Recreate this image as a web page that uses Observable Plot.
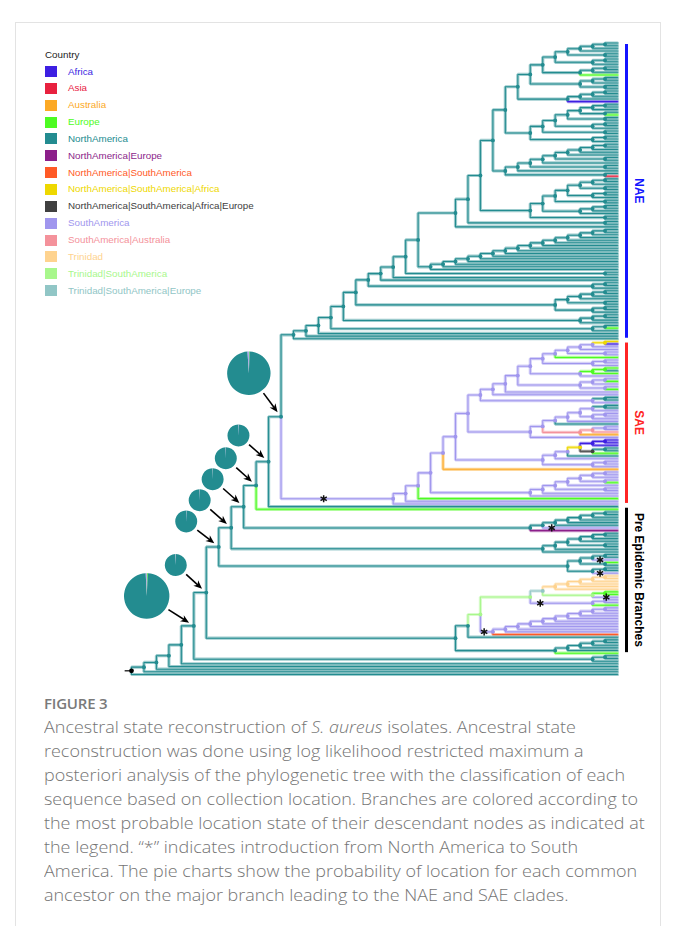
<!DOCTYPE html>
<html><head><meta charset="utf-8">
<script src="https://cdn.jsdelivr.net/npm/d3@7"></script>
<script src="https://cdn.jsdelivr.net/npm/@observablehq/plot@0.6"></script>
<style>
body{margin:0;background:#fff;}
#wrap{position:relative;width:678px;height:926px;overflow:hidden;font-family:"Liberation Sans",Arial,sans-serif;background:#fff;}
#frame{position:absolute;left:15px;top:22px;width:646px;height:940px;border:1px solid #e3e3e3;box-sizing:border-box;}
#chart{position:absolute;left:0;top:0;}
#legend{position:absolute;left:45px;top:48px;font-size:9.8px;line-height:1;}
#legend .ttl{position:absolute;left:0;top:2px;color:#222;white-space:nowrap;}
#legend .row{position:absolute;left:0;white-space:nowrap;}
#legend .sw{position:absolute;left:0;top:0;width:11.5px;height:11px;}
#legend .lb{position:absolute;left:23px;top:0.5px;}
#cap{position:absolute;left:44px;top:691px;font-family:"Open Sans","Noto Sans",sans-serif;color:#747474;}
#cap .fig{font-size:15px;font-weight:600;line-height:24px;letter-spacing:-0.2px;color:#7a7a7a;}
#cap .ln{font-size:16.4px;line-height:24px;white-space:nowrap;transform-origin:0 50%;font-weight:300;}
</style></head><body>
<div id="wrap">
  <div id="frame"></div>
  <div id="chart"></div>
  <div id="legend"></div>
  <div id="cap"></div>
</div>
<script>
// ---------- legend / states ----------
const countries = ["Africa","Asia","Australia","Europe","NorthAmerica","NorthAmerica|Europe","NorthAmerica|SouthAmerica","NorthAmerica|SouthAmerica|Africa","NorthAmerica|SouthAmerica|Africa|Europe","SouthAmerica","SouthAmerica|Australia","Trinidad","Trinidad|SouthAmerica","Trinidad|SouthAmerica|Europe"];
const codes = ["Af","As","Au","Eu","NA","NE","NS","NSA","NSAE","SA","SAu","Tr","TS","TSE"];
const colors = ["#3d1fe2","#e8213f","#fca925","#4dfb22","#238c90","#8c1f8a","#ff5a26","#eed800","#404040","#a096ee","#f4929b","#fed38f","#a8f78c","#91c6c6"];

// ---------- tree topology (Newick, top-to-bottom leaf order; "." = leaf in parent's state) ----------
const m1 = "(.,.)";
const m2 = "((.,.),.)";
const m3 = "(((.,.),.),.)";
// NAE clade
const H5a = "((" + m3 + "," + m1 + ")," + m2 + ")";
const H6a = "(" + H5a + ",(" + m2 + ",Eu))";
const H7a = "(" + H6a + ",(" + m2 + "," + m1 + "))";
const H8a = "(" + H7a + ",(" + m3 + ",Af))";
const C5b = "(((" + m2 + ",(.,Eu))," + m1 + ")," + m2 + ")";
const H7b = "((" + C5b + "," + m1 + ")," + m2 + ")";
const H9a = "(" + H8a + "," + H7b + ")";
const C5c = "((((" + m1 + ",.),.),.)," + m1 + ")";
const H9b = "((((" + C5c + ",.)," + m1 + "),.),(.,As))";
const H10a = "(" + H9a + "," + H9b + ")";
const C7 = "(((((" + m2 + "," + m1 + ")," + m2 + ")," + m1 + ")," + m3 + ")," + m1 + ")";
const H11a = "(" + H10a + "," + C7 + ")";
const H12a = "(" + H11a + "," + m1 + ")";
const H13a = "(" + H12a + ",.)";
const CAT4 = "((((.,.),.),.),.)";
const CAT8 = "((((" + CAT4 + ",.),.),.),.)";
const CAT12 = "((((" + CAT8 + ",.),.),.),.)";
const CAT15 = "(((" + CAT12 + ",.),.),.)";
const H16 = "(" + H13a + "," + CAT15 + ")";
const H17 = "(" + H16 + "," + m1 + ")";
const H18 = "(" + H17 + ",.)";
const H19 = "(" + H18 + ",.)";
const H20 = "(" + H19 + "," + m2 + ")";
const C5 = "((" + m3 + "," + m1 + ")," + m2 + ")";
const H21 = "(" + H20 + "," + C5 + ")";
const H22 = "(" + H21 + "," + m3 + ")";
const H23 = "(" + H22 + ",((.,Eu),.))";
const H24 = "(" + H23 + ",.)";
const H25 = "(" + H24 + ",.)";
const NAE = "(" + H25 + ",.)#nae";
// SAE clade
const S3 = "(((NSA,Af)NSA,.),.)";
const S4 = "(" + S3 + "," + m1 + ")";
const S5 = "(" + S4 + ",Eu)";
const S6 = "(" + S5 + "," + m2 + ")";
const S7 = "(" + S6 + ",(((Eu,NA)Eu,Eu)Eu,.))";
const C3f = "(((.,Eu),.),(.,Eu))";
const S8 = "(" + S7 + "," + C3f + ")";
const S9 = "(" + S8 + ",.)";
const S10 = "(" + S9 + ",.)";
const S11 = "(" + S10 + ",((NA,NA)NA,.))";
const SAc3a = "(((((NA,NA)NA,.)," + m2 + "),.),NA)";
const SAc3 = "((" + SAc3a + ",(((SA,SA)SA,SAu),Au)SAu),.)";
const S12 = "(" + S11 + "," + SAc3 + ")";
const SAc2y = "(((Af,Af)Af,Af)Af,((NA,NA)NA,Eu)NSAE)NSA";
const SAc2 = "(((" + SAc2y + ",NA),.)," + m2 + ")";
const S13 = "(" + S12 + "," + SAc2 + ")";
const S14 = "(" + S13 + ",Au)";
const SAc1 = "(((((" + m2 + ",(.,Eu)),.)," + m1 + "),.),.)";
const S15 = "(" + S14 + "," + SAc1 + ")";
const S16 = "(" + S15 + ",Eu)";
const S17 = "(" + S16 + ",.)";
const SAE = "(" + S17 + ",.)SA#sae";
// pre-epidemic clades
const P5 = "((((" + m1 + ",.),.),.),.)";
const P30 = "((" + P5 + ",SA#s2),NE)";
const P31 = "(((" + m3 + "," + m1 + "),.),.)";
const P32 = "(((" + m1 + ",SA#s3),(Eu,.)),(" + m1 + ",SA#s4))";
const P8 = "((((" + m1 + ",.),.),.),.)Tr";
const P9 = "(" + P8 + ",((Eu,Eu)Eu,SA#s5)TS)TSE";
const SAsmall = "(" + m1 + ",Eu)SA#s6";
const P10 = "(" + P9 + "," + SAsmall + ")TS";
const SAclade = "(((((((((" + m1 + ",.),.),.),.),.),.),.),.),NS)SA#s7";
const P11 = "(" + P10 + "," + SAclade + ")TS";
const P12 = "(" + P11 + ",.)NA";
const P5b = "((((" + m1 + ",.),.),.),Eu)";
const P33 = "(" + P12 + "," + P5b + ")#p33";
// backbone
const B27 = "(" + NAE + "," + SAE + ")#b27";
const B28 = "(" + B27 + ",.#pre0)#b28";
const B29 = "(" + B28 + ",Eu)#b29";
const B30 = "(" + B29 + "," + P30 + ")#b30";
const B31 = "(" + B30 + "," + P31 + ")#b31";
const B32 = "(" + B31 + "," + P32 + ")#b32";
const B33 = "(" + B32 + "," + P33 + ")#b33";
const B34 = "(" + B33 + "," + m2 + ")#b34";
const B35 = "(" + B34 + ",.)";
const B36 = "(" + B35 + ",.)";
const B37 = "(" + B36 + ",.)";
const B38 = "(" + B37 + ",.)";
const TREE = "(" + B38 + ",.)NA#root";

// ---------- annotations ----------
const stars = [["sae",0.38],["s2",0.12],["s3",0.3],["s4",0.3],["s5",0.55],["s6",0.16],["s7",0.3]];
const cladeNames = ["NAE","SAE","Pre Epidemic Branches"];
const cladeFrom = ["nae","sae","pre0"];
const cladeTo = ["nae","sae","p33"];
const cladeColors = ["#1414ff","#ff2424","#000000"];

const pieNodes = ["b34","b33","b32","b31","b30","b29","b28","b27"];
const pieCodes = ["Au","Eu","NA","SA"];
const pieAustralia    = [0.002,0.001,0.001,0.001,0.001,0.001,0.001,0.001];
const pieEurope       = [0.006,0.003,0.002,0.002,0.002,0.002,0.002,0.005];
const pieNorthAmerica = [0.985,0.990,0.993,0.993,0.993,0.993,0.992,0.984];
const pieSouthAmerica = [0.007,0.006,0.004,0.004,0.004,0.004,0.005,0.010];
// pie layout (pixels relative to node) and radius
const pieOffset = [[-46.6,-29.4],[-30,-27],[-32,-25],[-31,-27],[-30.5,-27],[-29.8,-26.7],[-29.6,-25.7],[-31.7,-43]];
const pieRadius = [22.7,11,11,11,11,11,11,21.7];

// ---------- parse ----------
function parseNewick(s){
  let i = 0;
  function label(){ const j = i; while (i < s.length && !"(),".includes(s[i])) i++; return s.slice(j, i); }
  function node(){
    const n = {children: []};
    if (s[i] === "(") {
      i++; n.children.push(node());
      while (s[i] === ",") { i++; n.children.push(node()); }
      if (s[i] !== ")") throw new Error("Newick: expected ) at " + i);
      i++;
    }
    const [code, name] = label().split("#");
    n.code = code && code !== "." ? code : null;
    n.name = name || null;
    return n;
  }
  const r = node();
  if (i !== s.length) throw new Error("Newick: trailing text at " + i + " of " + s.length);
  return r;
}
const root = parseNewick(TREE);
const nodes = []; let leafCount = 0;
(function walk(n, ps, p){
  n.state = n.code || ps; n.parent = p; nodes.push(n);
  if (!n.children.length) { n.y = leafCount++; n.h = 0; n.lo = n.hi = n.y; }
  else {
    n.children.forEach(c => walk(c, n.state, n));
    n.y = d3.mean(n.children, c => c.y);
    n.h = d3.max(n.children, c => c.h) + 1;
    n.lo = d3.min(n.children, c => c.lo); n.hi = d3.max(n.children, c => c.hi);
  }
})(root, "NA", null);
const H = root.h;
nodes.forEach(n => n.x = H - n.h);
const byName = new Map(nodes.filter(n => n.name).map(n => [n.name, n]));
const expectH = {nae: 26, sae: 18, b27: 27, b34: 34, root: 39};
for (const k in expectH) if (byName.get(k).h !== expectH[k]) throw new Error(`height ${k}=${byName.get(k).h}`);

const edgePts = [];
nodes.forEach((n, k) => {
  if (!n.parent) return;
  const p = n.parent;
  edgePts.push({id: k, state: n.state, x: p.x, y: p.y});
  edgePts.push({id: k, state: n.state, x: p.x, y: n.y});
  edgePts.push({id: k, state: n.state, x: n.x, y: n.y});
});
const internal = nodes.filter(n => n.children.length && n.parent);
const starData = stars.map(([nm, t]) => { const n = byName.get(nm), p = n.parent; return {x: p.x + t * (n.x - p.x), y: n.y}; });
const cladeData = cladeNames.map((nm, i) => {
  const a = byName.get(cladeFrom[i]), b = byName.get(cladeTo[i]);
  return {name: nm, y1: a.lo + 0.6, y2: b.hi - 0.2, mid: (a.lo + b.hi) / 2, color: cladeColors[i]};
});
const pieData = pieNodes.map(nm => byName.get(nm));
const pieValues = [pieAustralia, pieEurope, pieNorthAmerica, pieSouthAmerica];

function pieRender(index, scales, values){
  const g = d3.create("svg:g");
  const arc = d3.arc();
  for (const i of index) {
    const nx = values.x[i], ny = values.y[i];
    const cx = nx + pieOffset[i][0], cy = ny + pieOffset[i][1], r = pieRadius[i];
    const shares = pieCodes.map((c, k) => ({code: c, v: pieValues[k][i]}));
    const arcs = d3.pie().sort(null).value(d => d.v)(shares);
    const pg = g.append("g").attr("transform", `translate(${cx},${cy})`);
    pg.selectAll("path").data(arcs).join("path")
      .attr("d", d => arc({innerRadius: 0, outerRadius: r, startAngle: d.startAngle, endAngle: d.endAngle}))
      .attr("fill", d => scales.color(d.data.code));
    const dx = nx - cx, dy = ny - cy, L = Math.hypot(dx, dy), ux = dx / L, uy = dy / L;
    const x1 = cx + ux * (r + 3), y1 = cy + uy * (r + 3), x2 = nx - ux * 5, y2 = ny - uy * 5;
    const hl = 8.5, hw = 3.6, bx = x2 - ux * hl, by = y2 - uy * hl;
    g.append("line").attr("x1", x1).attr("y1", y1).attr("x2", bx + ux * 3).attr("y2", by + uy * 3)
      .attr("stroke", "black").attr("stroke-width", 1.6);
    g.append("path").attr("d", `M${x2},${y2}L${bx - uy * hw},${by + ux * hw}L${bx + ux * 2.5},${by + uy * 2.5}L${bx + uy * hw},${by - ux * hw}Z`)
      .attr("fill", "black");
  }
  return g.node();
}

const N = leafCount;
const plot = Plot.plot({
  width: 678, height: 690,
  marginLeft: 131, marginRight: 61, marginTop: 42.5, marginBottom: 16,
  x: {domain: [0, H], axis: null},
  y: {domain: [0, N - 1], reverse: true, axis: null},
  color: {domain: codes, range: colors},
  style: {overflow: "visible", background: "transparent"},
  marks: [
    Plot.line(edgePts, {x: "x", y: "y", z: "id", stroke: "state", strokeWidth: 3.2, strokeOpacity: 0.45, strokeLinejoin: "miter"}),
    Plot.line(edgePts, {x: "x", y: "y", z: "id", stroke: "state", strokeWidth: 1.05}),
    Plot.dot(internal, {x: "x", y: "y", fill: "state", r: 1.9}),
    Plot.link([root], {x1: d => d.x - 0.55, x2: d => d.x, y1: "y", y2: "y", stroke: "black", strokeWidth: 1.2}),
    Plot.dot([root], {x: "x", y: "y", fill: "black", r: 2.4}),
    Plot.dot(starData, {x: "x", y: "y", symbol: "asterisk", r: 3.4, stroke: "#111", strokeWidth: 1.5}),
    Plot.ruleX(cladeData, {x: () => H, y1: "y1", y2: "y2", dx: 9, stroke: d => d.color, strokeWidth: 3}),
    Plot.text(cladeData, {x: () => H, y: "mid", dx: 21, rotate: 90, text: "name", fill: d => d.color, fontSize: 12, fontWeight: "bold", fontFamily: "Liberation Sans, Arial, sans-serif"}),
    Plot.dot(pieData, {x: "x", y: "y", render: pieRender})
  ]
});
document.getElementById("chart").append(plot);

// ---------- legend ----------
const lg = document.getElementById("legend");
lg.innerHTML = `<div class="ttl">Country</div>`;
countries.forEach((c, i) => {
  const row = document.createElement("div");
  row.className = "row"; row.style.top = (18 + i * 16.85) + "px";
  row.innerHTML = `<div class="sw" style="background:${colors[i]}"></div><div class="lb" style="color:${colors[i]}">${c}</div>`;
  lg.append(row);
});

// ---------- caption ----------
const captionTitle = "FIGURE 3";
const captionLines = [
  "Ancestral state reconstruction of <i>S. aureus</i> isolates. Ancestral state",
  "reconstruction was done using log likelihood restricted maximum a",
  "posteriori analysis of the phylogenetic tree with the classification of each",
  "sequence based on collection location. Branches are colored according to",
  "the most probable location state of their descendant nodes as indicated at",
  "the legend. \u201c*\u201d indicates introduction from North America to South",
  "America. The pie charts show the probability of location for each common",
  "ancestor on the major branch leading to the NAE and SAE clades."
];
const cap = document.getElementById("cap");
cap.innerHTML = `<div class="fig">${captionTitle}</div>` + captionLines.map(l => `<div class="ln"><span>${l}</span></div>`).join("");
const spans = cap.querySelectorAll(".ln span");
const w4 = spans[3].getBoundingClientRect().width;
const k = 594 / w4;
cap.querySelectorAll(".ln").forEach(d => d.style.transform = `scaleX(${k})`);
</script>
</body></html>
